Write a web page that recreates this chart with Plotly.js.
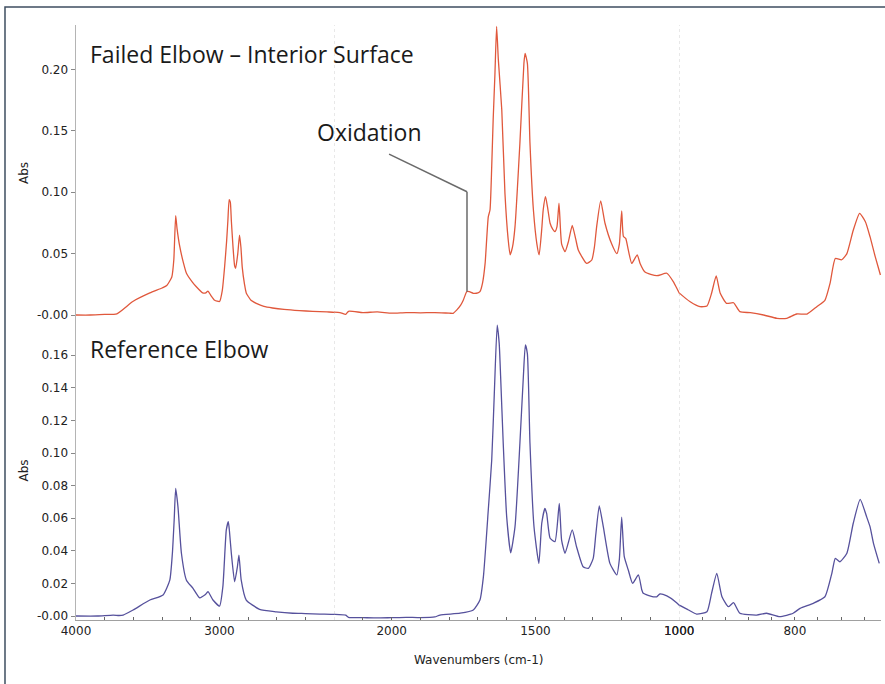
<!DOCTYPE html>
<html>
<head>
<meta charset="utf-8">
<script src="https://cdn.plot.ly/plotly-3.0.1.min.js"></script>
<style>html,body{margin:0;padding:0;background:#fff;}#chart{width:885px;height:684px;}</style>
</head>
<body>
<div id="chart"></div>
<script>
// ---- Data ----
const failedWavenumbers = [4000,3900,3800,3715,3604,3485,3400,3367,3332,3318,3305,3295,3277,3250,3230,3190,3161,3117,3095,3080,3060,3033,2999,2980,2964,2950,2941,2932,2924,2917,2905,2894,2887,2872,2860,2850,2841,2825,2813,2780,2743,2690,2630,2550,2442,2350,2250,2180,2160,2150,2100,2050,2000,1950,1900,1850,1800,1786,1774,1760,1751,1739,1730,1716,1700,1693,1684,1675,1664,1658,1652,1647,1641,1635,1629,1617,1606,1595,1588,1580,1571,1554,1540,1536,1528,1519,1507,1495,1487,1478,1473,1465,1458,1449,1440,1432,1425,1418,1409,1397,1385,1372,1360,1351,1322,1304,1295,1287,1273,1258,1235,1217,1208,1200,1194,1186,1177,1165,1146,1136,1119,1078,1043,1020,1000,981,964,952,944,936,929,918,906,895,877,854,831,814,797,779,762,748,739,730,719,710,699,688,678,670,661,652];
const failedAbs = [0.000,0.000,0.0005,0.001,0.011,0.018,0.022,0.024,0.031,0.045,0.081,0.070,0.056,0.042,0.034,0.027,0.023,0.018,0.018,0.0195,0.016,0.012,0.011,0.020,0.039,0.060,0.077,0.094,0.092,0.077,0.055,0.040,0.038,0.050,0.065,0.055,0.039,0.025,0.018,0.012,0.0095,0.007,0.0057,0.0045,0.0035,0.003,0.0025,0.002,0.0005,0.003,0.002,0.0025,0.0015,0.002,0.0018,0.002,0.0015,0.0014,0.004,0.008,0.012,0.019,0.019,0.0177,0.018,0.019,0.026,0.042,0.080,0.0855,0.121,0.159,0.195,0.235,0.208,0.167,0.099,0.062,0.049,0.055,0.072,0.140,0.205,0.213,0.205,0.140,0.0855,0.058,0.049,0.070,0.0855,0.0963,0.088,0.0747,0.070,0.068,0.072,0.091,0.058,0.0516,0.060,0.073,0.062,0.053,0.042,0.0448,0.055,0.072,0.093,0.0747,0.058,0.050,0.058,0.0847,0.064,0.0624,0.053,0.042,0.049,0.042,0.035,0.032,0.034,0.027,0.018,0.0108,0.0068,0.0073,0.0177,0.0318,0.0177,0.0095,0.010,0.0027,0.0019,0.000,-0.0027,-0.0027,0.0008,0.0008,0.0068,0.012,0.026,0.046,0.045,0.050,0.069,0.0828,0.076,0.0638,0.0475,0.0326];

const refWavenumbers = [4000,3850,3741,3700,3671,3602,3485,3393,3346,3328,3315,3305,3289,3265,3230,3184,3138,3100,3080,3045,2999,2976,2952,2938,2930,2917,2894,2875,2864,2848,2813,2720,2604,2489,2400,2300,2200,2160,2150,2100,2050,2000,1950,1900,1850,1832,1762,1716,1693,1681,1664,1652,1643,1633,1626,1621,1612,1600,1586,1571,1554,1542,1535,1528,1519,1505,1488,1478,1467,1461,1449,1432,1417,1409,1397,1372,1357,1334,1316,1299,1290,1278,1264,1241,1217,1208,1200,1191,1177,1162,1142,1130,1125,1090,1078,1067,1043,1009,984,970,952,944,935,926,915,906,895,866,849,826,803,791,768,748,736,730,722,710,699,687,676,670,664,654];
const refAbs = [0.000,0.000,0.0006,0.0003,0.0006,0.0037,0.0098,0.0129,0.022,0.0385,0.060,0.0783,0.067,0.0385,0.022,0.017,0.0112,0.013,0.0149,0.0098,0.0061,0.018,0.0528,0.0579,0.052,0.0385,0.021,0.030,0.0374,0.022,0.0098,0.0041,0.0026,0.0017,0.0015,0.0012,0.001,0.0005,-0.0008,-0.001,-0.0012,-0.001,-0.0008,-0.001,-0.0006,0.0006,0.0017,0.0037,0.0098,0.024,0.065,0.0957,0.1366,0.1785,0.1673,0.1468,0.106,0.061,0.0388,0.0548,0.106,0.1468,0.1663,0.161,0.106,0.0548,0.0323,0.0569,0.066,0.063,0.0477,0.0456,0.0691,0.0466,0.0385,0.0528,0.0425,0.0302,0.0292,0.0354,0.050,0.0675,0.0548,0.0323,0.0252,0.035,0.0606,0.0364,0.0282,0.020,0.0252,0.016,0.0139,0.0118,0.0118,0.0135,0.0123,0.0082,0.0037,0.0012,0.0026,0.0139,0.0262,0.0118,0.0057,0.0082,0.0017,0.0006,0.0017,-0.0004,0.0017,0.0047,0.0078,0.0118,0.0262,0.0354,0.0333,0.0385,0.0569,0.0716,0.061,0.0548,0.0446,0.0323];

// x-axis segments (the spectrum display uses a split wavenumber scale)
const segA = [4000, 2200];
const segB = [2200, 1000];
const segC = [1000, 651];
const ticksA = [4000,3800,3600,3400,3200,3000,2800,2600,2400,2200];
const ticksB = [2200,2100,2000,1900,1800,1700,1600,1500,1400,1300,1200,1100,1000];
const ticksC = [1000,960,920,880,840,800,760,720,680];
const labelsShownX = [4000,3000,2000,1500,1000,800];

const topTickVals = [0,0.05,0.10,0.15,0.20];
const topTickText = ['-0.00','0.05','0.10','0.15','0.20'];
const botTickVals = [0,0.02,0.04,0.06,0.08,0.10,0.12,0.14,0.16];
const botTickText = ['-0.00','0.02','0.04','0.06','0.08','0.10','0.12','0.14','0.16'];

const topLabel = 'Failed Elbow \u2013 Interior Surface';
const bottomLabel = 'Reference Elbow';
const oxLabel = 'Oxidation';
const oxWavenumber = 1738;
// leader line points (x2 wavenumber, top-panel Abs)
const leaderX = [2009, oxWavenumber, oxWavenumber];
const leaderY = [0.131, 0.1004, 0.019];

// ---- Build ----
const redColor = '#e0583c';
const blueColor = '#56519c';
const axes = ['x','x2','x3'];
const traces = [];
axes.forEach(ax => {
  traces.push({x: failedWavenumbers, y: failedAbs, xaxis: ax, yaxis: 'y', type: 'scatter', mode: 'lines',
    line: {color: redColor, width: 1.3, shape: 'spline', smoothing: 0.5}, hoverinfo: 'x+y', showlegend: false});
  traces.push({x: refWavenumbers, y: refAbs, xaxis: ax, yaxis: 'y2', type: 'scatter', mode: 'lines',
    line: {color: blueColor, width: 1.3, shape: 'spline', smoothing: 0.5}, hoverinfo: 'x+y', showlegend: false});
});

const tickFont = {family: 'DejaVu Sans, Arial, sans-serif', size: 12, color: '#222'};
function xAxis(range, ticks, domain) {
  return {
    domain: domain, range: range, anchor: 'y2', showgrid: false, zeroline: false,
    showline: true, linecolor: '#a0a0a0', linewidth: 1,
    tickmode: 'array', tickvals: ticks,
    ticktext: ticks.map(t => labelsShownX.includes(t) ? String(t) : ''),
    ticks: 'inside', ticklen: 3, tickcolor: '#666', tickfont: tickFont
  };
}
const yBase = {
  anchor: 'x', showgrid: false, zeroline: false, showline: true, linecolor: '#b4b4b4', linewidth: 1.5,
  ticks: 'outside', ticklen: 4, tickcolor: '#888', tickfont: tickFont, tickmode: 'array'
};
const bigFont = {family: 'Open Sans, sans-serif', size: 23, color: '#1a1a1a'};

const layout = {
  width: 885, height: 684,
  margin: {l: 76, r: 4, t: 25, b: 64},
  paper_bgcolor: '#ffffff', plot_bgcolor: '#ffffff',
  showlegend: false,
  xaxis: xAxis(segA, ticksA, [0, 0.3207]),
  xaxis2: xAxis(segB, ticksB, [0.3207, 0.7493]),
  xaxis3: xAxis(segC, ticksC, [0.7493, 1]),
  yaxis: Object.assign({}, yBase, {domain: [0.5025, 1], range: [-0.0049, 0.2362],
    tickvals: topTickVals, ticktext: topTickText,
    title: {text: 'Abs', font: {family: 'DejaVu Sans, Arial, sans-serif', size: 12, color: '#222'}, standoff: 6}}),
  yaxis2: Object.assign({}, yBase, {domain: [0, 0.5025], range: [-0.00245, 0.181],
    tickvals: botTickVals, ticktext: botTickText,
    title: {text: 'Abs', font: {family: 'DejaVu Sans, Arial, sans-serif', size: 12, color: '#222'}, standoff: 6}}),
  annotations: [
    {text: topLabel, xref: 'paper', yref: 'paper', x: 0.0149, y: 0.951, xanchor: 'left', yanchor: 'middle',
      showarrow: false, font: bigFont},
    {text: bottomLabel, xref: 'paper', yref: 'paper', x: 0.0149, y: 0.4555, xanchor: 'left', yanchor: 'middle',
      showarrow: false, font: bigFont},
    {text: oxLabel, xref: 'paper', yref: 'paper', x: 0.3652, y: 0.8202, xanchor: 'center', yanchor: 'middle',
      showarrow: false, font: bigFont},
    {text: 'Wavenumbers (cm-1)', xref: 'paper', yref: 'paper', x: 0.5, y: -0.068, xanchor: 'center', yanchor: 'middle',
      showarrow: false, font: {family: 'DejaVu Sans, Arial, sans-serif', size: 12, color: '#222'}}
  ],
  shapes: [
    {type: 'line', xref: 'x2', yref: 'paper', x0: segB[0], x1: segB[0], y0: 0, y1: 1,
      line: {color: '#d6d6d6', width: 1, dash: 'dot'}, layer: 'below'},
    {type: 'line', xref: 'x3', yref: 'paper', x0: segC[0], x1: segC[0], y0: 0, y1: 1,
      line: {color: '#d6d6d6', width: 1, dash: 'dot'}, layer: 'below'},
    {type: 'line', xref: 'x2', yref: 'y', x0: leaderX[0], y0: leaderY[0], x1: leaderX[1], y1: leaderY[1],
      line: {color: '#6a6a6a', width: 1.5}},
    {type: 'line', xref: 'x2', yref: 'y', x0: leaderX[1], y0: leaderY[1], x1: leaderX[2], y1: leaderY[2],
      line: {color: '#6a6a6a', width: 1.5}},
    {type: 'rect', xref: 'paper', yref: 'paper', x0: -0.0882, x1: 1.0112, y0: -0.1176, y1: 1.0303,
      line: {color: '#3e4e60', width: 1.5}, fillcolor: 'rgba(0,0,0,0)'}
  ]
};

Plotly.newPlot('chart', traces, layout, {displayModeBar: false, staticPlot: true});
</script>
</body>
</html>
